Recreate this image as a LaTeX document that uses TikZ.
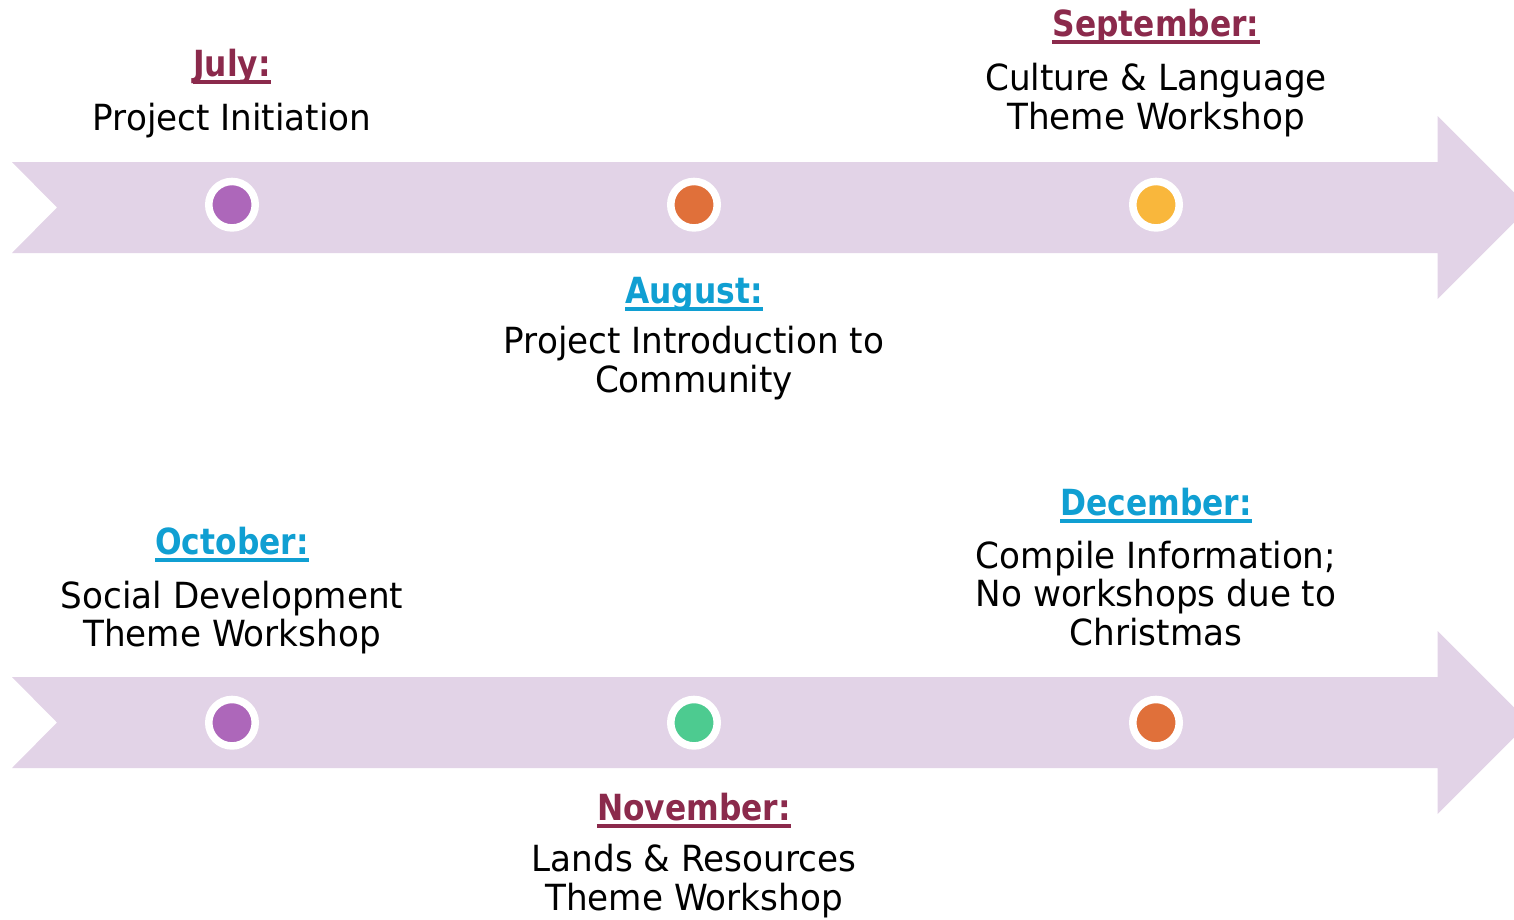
\documentclass[tikz,border=0pt]{standalone}
\usepackage{fontspec}
\setmainfont{DejaVu Sans}[FakeStretch=0.95]
\newfontfamily\headfont{DejaVu Sans}[FakeStretch=0.87]
\definecolor{bandc}{HTML}{E2D3E7}
\definecolor{maroon}{HTML}{8B2A4C}
\definecolor{bluec}{HTML}{109FD2}
\definecolor{dpurple}{HTML}{AD67BA}
\definecolor{dorange}{HTML}{E0703A}
\definecolor{dyellow}{HTML}{F9B73C}
\definecolor{dgreen}{HTML}{4DCB90}
\tikzset{
  band/.style={fill=bandc},
  dot/.style={circle, draw=white, line width=7.5pt, minimum size=46.5pt, inner sep=0pt},
  head/.style={anchor=base, inner sep=0pt, font=\fontsize{36}{38.5}\headfont\bfseries},
  desc/.style={anchor=base, inner sep=0pt, align=center, font=\fontsize{36}{38.5}\selectfont},
}
\newcommand{\ulhead}[2]{\draw[#2, line width=4pt] ([yshift=-5.5pt]#1.base west) -- ([yshift=-5.5pt]#1.base east);}
\begin{document}
\begin{tikzpicture}[x=1pt,y=-1pt]
\useasboundingbox (0,0) rectangle (1514,919);
\clip (0,0) rectangle (1514,919);
% arrows
\fill[band] (12,162) -- (1437.5,162) -- (1437.5,116) -- (1529,207.5) -- (1437.5,299) -- (1437.5,253) -- (12,253) -- (57,207.5) -- cycle;
\fill[band] (12,677) -- (1437.5,677) -- (1437.5,631) -- (1529,722.5) -- (1437.5,814) -- (1437.5,768) -- (12,768) -- (57,722.5) -- cycle;
% dots
\node[dot, fill=dpurple] (d1) at (232,204.7) {};
\node[dot, fill=dorange] (d2) at (694,204.7) {};
\node[dot, fill=dyellow] (d3) at (1156,204.7) {};
\node[dot, fill=dpurple] (d4) at (232,722.7) {};
\node[dot, fill=dgreen] (d5) at (694,722.7) {};
\node[dot, fill=dorange] (d6) at (1156,722.7) {};
% headings
\node[head, text=maroon] (hjul) at (232,76) {July:};
\node[head, text=bluec] (haug) at (694,303.5) {August:};
\node[head, text=maroon] (hsep) at (1156,36.7) {September:};
\node[head, text=bluec] (hoct) at (232,554) {October:};
\node[head, text=maroon] (hnov) at (694,820) {November:};
\node[head, text=bluec] (hdec) at (1156,515) {December:};
\ulhead{hjul}{maroon}
\ulhead{haug}{bluec}
\ulhead{hsep}{maroon}
\ulhead{hoct}{bluec}
\ulhead{hnov}{maroon}
\ulhead{hdec}{bluec}
% descriptions (base = baseline of last line)
\node[desc] (tjul) at (232,130) {Project Initiation};
\node[desc] (taug) at (694,392.3) {Project Introduction to\\Community};
\node[desc] (tsep) at (1156,129.3) {Culture \& Language\\Theme Workshop};
\node[desc] (toct) at (232,646.8) {Social Development\\Theme Workshop};
\node[desc] (tnov) at (694,910.2) {Lands \& Resources\\Theme Workshop};
\node[desc] (tdec) at (1156,645.3) {Compile Information;\\No workshops due to\\Christmas};
\end{tikzpicture}
\end{document}
